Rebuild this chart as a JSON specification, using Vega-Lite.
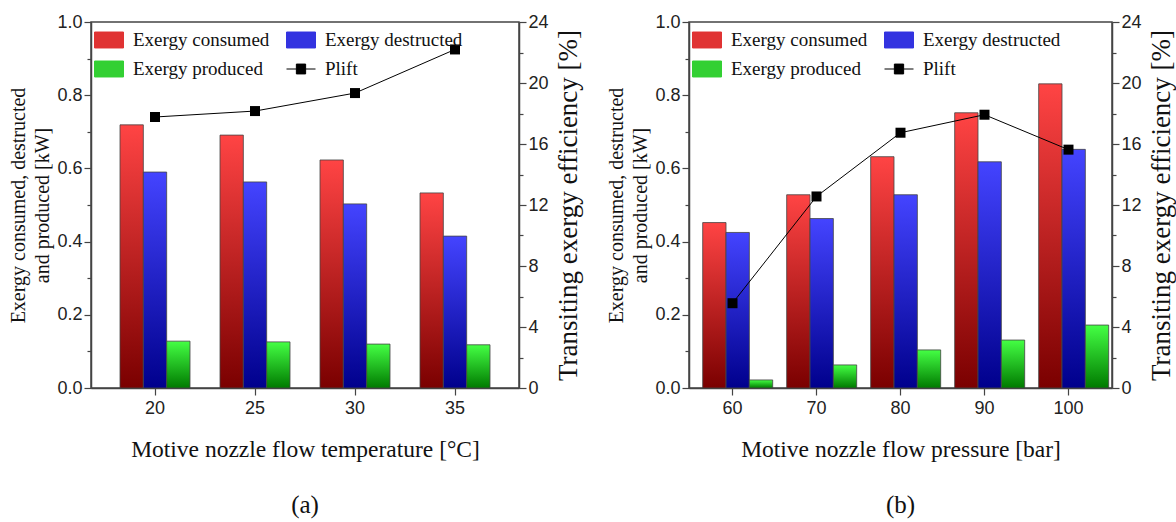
{
  "$schema": "https://vega.github.io/schema/vega-lite/v6.json",
  "padding": {"left": 8, "top": 12, "right": 1, "bottom": 0},
  "background": "white",
  "datasets": {
    "barsA": [
      {"x": 20, "series": "Exergy consumed", "value": 0.719},
      {"x": 20, "series": "Exergy destructed", "value": 0.590},
      {"x": 20, "series": "Exergy produced", "value": 0.128},
      {"x": 25, "series": "Exergy consumed", "value": 0.691},
      {"x": 25, "series": "Exergy destructed", "value": 0.563},
      {"x": 25, "series": "Exergy produced", "value": 0.126},
      {"x": 30, "series": "Exergy consumed", "value": 0.623},
      {"x": 30, "series": "Exergy destructed", "value": 0.503},
      {"x": 30, "series": "Exergy produced", "value": 0.120},
      {"x": 35, "series": "Exergy consumed", "value": 0.533},
      {"x": 35, "series": "Exergy destructed", "value": 0.415},
      {"x": 35, "series": "Exergy produced", "value": 0.118}
    ],
    "liftA": [
      {"x": 20, "series": "Plift", "lift": 17.77},
      {"x": 25, "series": "Plift", "lift": 18.16},
      {"x": 30, "series": "Plift", "lift": 19.34},
      {"x": 35, "series": "Plift", "lift": 22.2}
    ],
    "barsB": [
      {"x": 60, "series": "Exergy consumed", "value": 0.452},
      {"x": 60, "series": "Exergy destructed", "value": 0.425},
      {"x": 60, "series": "Exergy produced", "value": 0.022},
      {"x": 70, "series": "Exergy consumed", "value": 0.528},
      {"x": 70, "series": "Exergy destructed", "value": 0.463},
      {"x": 70, "series": "Exergy produced", "value": 0.063},
      {"x": 80, "series": "Exergy consumed", "value": 0.632},
      {"x": 80, "series": "Exergy destructed", "value": 0.528},
      {"x": 80, "series": "Exergy produced", "value": 0.104},
      {"x": 90, "series": "Exergy consumed", "value": 0.752},
      {"x": 90, "series": "Exergy destructed", "value": 0.618},
      {"x": 90, "series": "Exergy produced", "value": 0.131},
      {"x": 100, "series": "Exergy consumed", "value": 0.831},
      {"x": 100, "series": "Exergy destructed", "value": 0.652},
      {"x": 100, "series": "Exergy produced", "value": 0.172}
    ],
    "liftB": [
      {"x": 60, "series": "Plift", "lift": 5.56},
      {"x": 70, "series": "Plift", "lift": 12.56},
      {"x": 80, "series": "Plift", "lift": 16.74},
      {"x": 90, "series": "Plift", "lift": 17.92},
      {"x": 100, "series": "Plift", "lift": 15.63}
    ]
  },
  "config": {
    "view": {"stroke": "#444", "strokeWidth": 1.5},
    "axis": {
      "labelFont": "Liberation Sans",
      "labelFontSize": 18,
      "labelColor": "#222",
      "titleFont": "Liberation Serif",
      "titleFontWeight": "normal",
      "titleColor": "#111",
      "domainColor": "#444",
      "domainWidth": 1.5,
      "tickColor": "#444",
      "tickWidth": 1.2,
      "grid": false
    },
    "legend": {
      "orient": "top-left",
      "columns": 2,
      "direction": "horizontal",
      "title": null,
      "labelFont": "Liberation Serif",
      "labelFontSize": 19,
      "labelColor": "#111",
      "symbolSize": 841,
      "symbolStrokeColor": "#333",
      "symbolStrokeWidth": 1,
      "symbolOpacity": 1,
      "offset": 3,
      "rowPadding": 4,
      "columnPadding": 14,
      "labelOffset": 9,
      "padding": 0,
      "labelLimit": 300
    },
    "title": {"font": "Liberation Serif", "fontSize": 25, "fontWeight": "normal", "color": "#111"}
  },
  "resolve": {"scale": {"color": "independent"}, "legend": {"color": "independent"}},
  "spacing": 24,
  "hconcat": [
    {
      "width": 428,
      "height": 366,
      "title": {"text": "(a)", "orient": "bottom", "offset": 32},
      "layer": [
        {
          "data": {"name": "barsA"},
          "mark": {"type": "bar", "stroke": "#444", "strokeWidth": 0.8},
          "encoding": {
            "x": {
              "field": "x", "type": "ordinal",
              "scale": {"paddingInner": 0.3, "paddingOuter": 0.29},
              "axis": {"title": "Motive nozzle flow temperature [°C]", "titleFontSize": 23.5, "labelAngle": 0, "tickSize": 7, "labelPadding": 4, "titlePadding": 20}
            },
            "xOffset": {"field": "series", "sort": ["Exergy consumed", "Exergy destructed", "Exergy produced"], "scale": {"paddingInner": 0, "paddingOuter": 0}},
            "y": {
              "field": "value", "type": "quantitative",
              "scale": {"domain": [0, 1], "nice": false},
              "axis": {
                "title": ["Exergy consumed, destructed", "and produced [kW]"],
                "titleFontSize": 20, "titleLineHeight": 24, "titlePadding": 4,
                "values": [0, 0.1, 0.2, 0.3, 0.4, 0.5, 0.6, 0.7, 0.8, 0.9, 1.0],
                "labelExpr": "round(datum.value*10) % 2 == 1 ? '' : format(datum.value, '.1f')",
                "tickSize": {"condition": {"test": "round(datum.value*10) % 2 == 1", "value": 4}, "value": 7},
                "labelPadding": 2
              }
            },
            "color": {
              "field": "series", "type": "nominal",
              "scale": {
                "domain": ["Exergy consumed", "Exergy destructed", "Exergy produced", "Plift"],
                "range": ["#e03333", "#3333e0", "#33d033", "black"]
              },
              "legend": {
                "encode": {
                  "symbols": {
                    "update": {
                      "shape": {"signal": "datum.value === 'Plift' ? 'M-1,0H-0.32M0.32,0H1M-0.32,-0.34H0.32V0.34H-0.32Z' : 'M-1,-0.55H1V0.55H-1Z'"},
                      "stroke": {"value": "#333"},
                      "strokeWidth": {"value": 1},
                      "fill": {"signal": "datum.value === 'Exergy consumed' ? {gradient: 'linear', x1: 0, y1: 0, x2: 0, y2: 1, stops: [{offset: 0, color: '#ff4444'}, {offset: 1, color: '#7a0000'}]} : datum.value === 'Exergy destructed' ? {gradient: 'linear', x1: 0, y1: 0, x2: 0, y2: 1, stops: [{offset: 0, color: '#4444ff'}, {offset: 1, color: '#00008c'}]} : datum.value === 'Exergy produced' ? {gradient: 'linear', x1: 0, y1: 0, x2: 0, y2: 1, stops: [{offset: 0, color: '#44ff44'}, {offset: 1, color: '#007a00'}]} : 'black'"}
                    }
                  }
                }
              },
              "condition": [
                {"test": "datum.series === 'Exergy consumed'", "value": {"gradient": "linear", "x1": 0, "y1": 0, "x2": 0, "y2": 1, "stops": [{"offset": 0, "color": "#ff4444"}, {"offset": 1, "color": "#7a0000"}]}},
                {"test": "datum.series === 'Exergy destructed'", "value": {"gradient": "linear", "x1": 0, "y1": 0, "x2": 0, "y2": 1, "stops": [{"offset": 0, "color": "#4444ff"}, {"offset": 1, "color": "#00008c"}]}},
                {"test": "datum.series === 'Exergy produced'", "value": {"gradient": "linear", "x1": 0, "y1": 0, "x2": 0, "y2": 1, "stops": [{"offset": 0, "color": "#44ff44"}, {"offset": 1, "color": "#007a00"}]}}
              ]
            }
          }
        },
        {
          "data": {"name": "liftA"},
          "encoding": {
            "x": {"field": "x", "type": "ordinal"},
            "y": {
              "field": "lift", "type": "quantitative",
              "scale": {"domain": [0, 24], "nice": false},
              "axis": {
                "orient": "right",
                "title": "Transiting exergy efficiency [%]",
                "titleFontSize": 27, "titlePadding": 7, "titleAngle": 270, "titleBaseline": "top",
                "values": [0, 2, 4, 6, 8, 10, 12, 14, 16, 18, 20, 22, 24],
                "labelExpr": "datum.value % 4 == 2 ? '' : datum.label",
                "tickSize": {"condition": {"test": "datum.value % 4 == 2", "value": 4}, "value": 7},
                "labelPadding": 2
              }
            },
            "color": {"field": "series", "type": "nominal"}
          },
          "layer": [
            {"mark": {"type": "line", "strokeWidth": 1}},
            {"mark": {"type": "point", "shape": "square", "filled": true, "size": 100, "opacity": 1}}
          ]
        }
      ],
      "resolve": {"scale": {"y": "independent"}}
    },
    {
      "width": 423,
      "height": 366,
      "title": {"text": "(b)", "orient": "bottom", "offset": 32},
      "layer": [
        {
          "data": {"name": "barsB"},
          "mark": {"type": "bar", "stroke": "#444", "strokeWidth": 0.8},
          "encoding": {
            "x": {
              "field": "x", "type": "ordinal",
              "scale": {"paddingInner": 0.29, "paddingOuter": 0.163},
              "axis": {"title": "Motive nozzle flow pressure [bar]", "titleFontSize": 23.5, "labelAngle": 0, "tickSize": 7, "labelPadding": 4, "titlePadding": 20}
            },
            "xOffset": {"field": "series", "sort": ["Exergy consumed", "Exergy destructed", "Exergy produced"], "scale": {"paddingInner": 0, "paddingOuter": 0}},
            "y": {
              "field": "value", "type": "quantitative",
              "scale": {"domain": [0, 1], "nice": false},
              "axis": {
                "title": ["Exergy consumed, destructed", "and produced [kW]"],
                "titleFontSize": 20, "titleLineHeight": 24, "titlePadding": 4,
                "values": [0, 0.1, 0.2, 0.3, 0.4, 0.5, 0.6, 0.7, 0.8, 0.9, 1.0],
                "labelExpr": "round(datum.value*10) % 2 == 1 ? '' : format(datum.value, '.1f')",
                "tickSize": {"condition": {"test": "round(datum.value*10) % 2 == 1", "value": 4}, "value": 7},
                "labelPadding": 2
              }
            },
            "color": {
              "field": "series", "type": "nominal",
              "scale": {
                "domain": ["Exergy consumed", "Exergy destructed", "Exergy produced", "Plift"],
                "range": ["#e03333", "#3333e0", "#33d033", "black"]
              },
              "legend": {
                "encode": {
                  "symbols": {
                    "update": {
                      "shape": {"signal": "datum.value === 'Plift' ? 'M-1,0H-0.32M0.32,0H1M-0.32,-0.34H0.32V0.34H-0.32Z' : 'M-1,-0.55H1V0.55H-1Z'"},
                      "stroke": {"value": "#333"},
                      "strokeWidth": {"value": 1},
                      "fill": {"signal": "datum.value === 'Exergy consumed' ? {gradient: 'linear', x1: 0, y1: 0, x2: 0, y2: 1, stops: [{offset: 0, color: '#ff4444'}, {offset: 1, color: '#7a0000'}]} : datum.value === 'Exergy destructed' ? {gradient: 'linear', x1: 0, y1: 0, x2: 0, y2: 1, stops: [{offset: 0, color: '#4444ff'}, {offset: 1, color: '#00008c'}]} : datum.value === 'Exergy produced' ? {gradient: 'linear', x1: 0, y1: 0, x2: 0, y2: 1, stops: [{offset: 0, color: '#44ff44'}, {offset: 1, color: '#007a00'}]} : 'black'"}
                    }
                  }
                }
              },
              "condition": [
                {"test": "datum.series === 'Exergy consumed'", "value": {"gradient": "linear", "x1": 0, "y1": 0, "x2": 0, "y2": 1, "stops": [{"offset": 0, "color": "#ff4444"}, {"offset": 1, "color": "#7a0000"}]}},
                {"test": "datum.series === 'Exergy destructed'", "value": {"gradient": "linear", "x1": 0, "y1": 0, "x2": 0, "y2": 1, "stops": [{"offset": 0, "color": "#4444ff"}, {"offset": 1, "color": "#00008c"}]}},
                {"test": "datum.series === 'Exergy produced'", "value": {"gradient": "linear", "x1": 0, "y1": 0, "x2": 0, "y2": 1, "stops": [{"offset": 0, "color": "#44ff44"}, {"offset": 1, "color": "#007a00"}]}}
              ]
            }
          }
        },
        {
          "data": {"name": "liftB"},
          "encoding": {
            "x": {"field": "x", "type": "ordinal"},
            "y": {
              "field": "lift", "type": "quantitative",
              "scale": {"domain": [0, 24], "nice": false},
              "axis": {
                "orient": "right",
                "title": "Transiting exergy efficiency [%]",
                "titleFontSize": 27, "titlePadding": 7, "titleAngle": 270, "titleBaseline": "top",
                "values": [0, 2, 4, 6, 8, 10, 12, 14, 16, 18, 20, 22, 24],
                "labelExpr": "datum.value % 4 == 2 ? '' : datum.label",
                "tickSize": {"condition": {"test": "datum.value % 4 == 2", "value": 4}, "value": 7},
                "labelPadding": 2
              }
            },
            "color": {"field": "series", "type": "nominal"}
          },
          "layer": [
            {"mark": {"type": "line", "strokeWidth": 1}},
            {"mark": {"type": "point", "shape": "square", "filled": true, "size": 100, "opacity": 1}}
          ]
        }
      ],
      "resolve": {"scale": {"y": "independent"}}
    }
  ]
}
